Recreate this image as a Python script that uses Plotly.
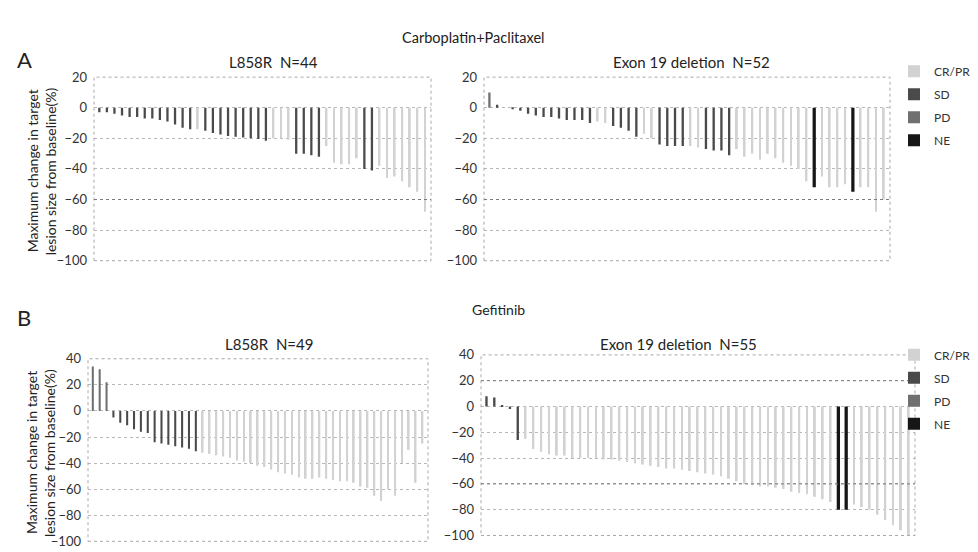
import plotly.graph_objects as go

# ---------------- data ----------------
categories = ["CR/PR", "SD", "PD", "NE"]

a_l858r_values = [-3, -3, -4, -5, -6, -6, -7, -7, -8, -9, -11, -13, -14, -14, -15,
                  -16.5, -17.5, -18.5, -19, -19.5, -20, -20.5, -21.5, -20, -20, -21,
                  -30, -30, -31, -32, -25, -36, -37, -37, -33, -40, -41, -38, -46,
                  -45, -48, -52, -55, -68]
a_l858r_status = ["SD"] * 13 + ["CR/PR"] + ["SD"] * 9 + ["CR/PR"] * 3 + ["SD"] * 4 + \
                 ["CR/PR"] * 5 + ["SD"] * 2 + ["CR/PR"] * 7

a_ex19_values = [10, 2, 0, -1, -2, -4, -5, -6, -6, -7, -8, -8, -8, -10, -9, -10, -12,
                 -13, -15, -19, -17, -20, -24, -25, -25, -25, -25, -26, -27, -28, -28,
                 -31, -27, -32, -30, -34, -30, -33, -36, -38, -40, -48, -52, -45, -52,
                 -52, -50, -55, -52, -52, -68, -60]
a_ex19_status = ["PD"] + ["SD"] * 13 + ["CR/PR"] * 2 + ["SD"] * 4 + ["CR/PR"] * 2 + \
                ["SD"] * 4 + ["CR/PR"] * 2 + ["SD"] * 4 + ["CR/PR"] * 10 + ["NE"] + \
                ["CR/PR"] * 4 + ["NE"] + ["CR/PR"] * 4

b_l858r_values = [34, 32, 22, -5, -9, -11, -14, -16, -17, -24, -25, -26, -27, -28, -29,
                  -31, -32, -33, -34, -35, -36, -38, -39, -40, -42, -43, -45, -47, -48,
                  -49, -51, -52, -52, -51, -52, -53, -54, -54, -55, -58, -59, -65, -69,
                  -60, -65, -40, -30, -55, -25]
b_l858r_status = ["PD"] * 3 + ["SD"] * 13 + ["CR/PR"] * 33

b_ex19_values = [8, 7, 1, -2, -26, -25, -33, -35, -37, -38, -38, -40, -40, -40, -40,
                 -41, -41, -42, -43, -44, -45, -46, -47, -48, -48, -49, -50, -51, -52,
                 -53, -54, -56, -58, -60, -61, -62, -62, -63, -64, -66, -67, -68, -70,
                 -72, -74, -80, -80, -76, -78, -80, -84, -88, -92, -96, -100]
b_ex19_status = ["SD"] * 5 + ["CR/PR"] * 40 + ["NE"] * 2 + ["CR/PR"] * 8

y_ticks_a = [20, 0, -20, -40, -60, -80, -100]
y_ticks_b = [40, 20, 0, -20, -40, -60, -80, -100]

colors = {"CR/PR": "#d2d2d2", "SD": "#4a4a4a", "PD": "#707070", "NE": "#161616"}
widths = {"CR/PR": 0.24, "SD": 0.3, "PD": 0.3, "NE": 0.42}

FONT = "Lato, Open Sans, sans-serif"
SP = "&nbsp;"

panels = [
    (a_l858r_values, a_l858r_status, "x", "y", None, False),
    (a_ex19_values, a_ex19_status, "x2", "y2", "legend", True),
    (b_l858r_values, b_l858r_status, "x3", "y3", None, False),
    (b_ex19_values, b_ex19_status, "x4", "y4", "legend2", True),
]

fig = go.Figure()
for vals, stat, xa, ya, leg, show in panels:
    idx = list(range(len(vals)))
    for cat in categories:
        yv = [v if s == cat else None for v, s in zip(vals, stat)]
        tr = dict(
            x=idx, y=yv, name=cat, xaxis=xa, yaxis=ya,
            marker=dict(color=colors[cat], line=dict(width=0)),
            width=widths[cat], showlegend=show, legendgroup=cat + xa,
            hoverinfo="y",
        )
        if leg:
            tr["legend"] = leg
        fig.add_trace(go.Bar(**tr))

dom = {
    "x": [86 / 978, 423 / 978], "y": [1 - 252 / 552, 1 - 63 / 552],
    "x2": [476 / 978, 882 / 978], "y2": [1 - 252 / 552, 1 - 63 / 552],
    "x3": [80 / 978, 420 / 978], "y3": [1 - 541 / 552, 1 - 353 / 552],
    "x4": [473 / 978, 907 / 978], "y4": [1 - 535 / 552, 1 - 349 / 552],
}

layout = dict(
    width=978, height=552, margin=dict(l=0, r=0, t=0, b=0),
    paper_bgcolor="white", plot_bgcolor="white",
    barmode="overlay", font=dict(family=FONT, size=12, color="#333333"),
)
lens = [len(a_l858r_values), len(a_ex19_values), len(b_l858r_values), len(b_ex19_values)]
for i, (n, ticks) in enumerate(zip(lens, [y_ticks_a, y_ticks_a, y_ticks_b, y_ticks_b])):
    sfx = "" if i == 0 else str(i + 1)
    layout["xaxis" + sfx] = dict(
        domain=dom["x" + sfx], range=[-0.7, n - 0.2], showticklabels=False,
        showgrid=False, zeroline=False, showline=False, anchor="y" + sfx,
        fixedrange=True,
    )
    layout["yaxis" + sfx] = dict(
        domain=dom["y" + sfx], range=[min(ticks), max(ticks)], tickvals=ticks,
        showgrid=True, gridcolor="#b8b8b8", griddash="dot", gridwidth=1,
        zeroline=False, showline=False, anchor="x" + sfx, ticks="",
        ticklabelstandoff=6, tickfont=dict(size=13, color="#333333"),
        fixedrange=True,
    )

fig.update_layout(**layout)

shapes = []
for i in range(4):
    sfx = "" if i == 0 else str(i + 1)
    shapes.append(dict(type="rect", xref=f"x{sfx} domain", yref=f"y{sfx} domain",
                       x0=0, x1=1, y0=0, y1=1,
                       line=dict(color="#a8a8a8", width=1, dash="dot")))
emph = [("y", -60), ("y2", -60), ("y4", 20), ("y4", -60)]
for ya, yv in emph:
    xa = "x" + ya[1:]
    shapes.append(dict(type="line", xref=f"{xa} domain", yref=ya, x0=0, x1=1,
                       y0=yv, y1=yv, line=dict(color="#7a7a7a", width=1, dash="dot")))
fig.update_layout(shapes=shapes)

ann = [
    ("Carboplatin+Paclitaxel", 465, 22, 14.5, 0),
    ("A", 16, 45, 22, 0),
    ("L858R" + SP * 2 + "N=44", 265, 47, 15, 0),
    ("Exon 19 deletion" + SP * 2 + "N=52", 683, 47, 15, 0),
    ("Gefitinib", 490, 302, 14, 0),
    ("B", 16, 311, 22, 0),
    ("L858R" + SP * 2 + "N=49", 261, 338, 15, 0),
    ("Exon 19 deletion" + SP * 2 + "N=55", 670, 338, 15, 0),
    ("Maximum change in target", 24, 160, 14, -90),
    ("lesion size from baseline(%)", 42, 160, 14, -90),
    ("Maximum change in target", 24, 450, 14, -90),
    ("lesion size from baseline(%)", 42, 450, 14, -90),
]
annotations = []
for text, px, py, size, ang in ann:
    annotations.append(dict(text=text, x=px / 978, y=1 - py / 552, xref="paper",
                            yref="paper", showarrow=False, xanchor="center",
                            yanchor="middle", textangle=ang,
                            font=dict(size=size, family=FONT, color="#222222")))
fig.update_layout(annotations=annotations)

leg_common = dict(xanchor="left", yanchor="top", bgcolor="rgba(0,0,0,0)",
                  font=dict(size=12, family=FONT, color="#333333"),
                  tracegroupgap=4, itemwidth=30)
fig.update_layout(
    legend=dict(x=886 / 978, y=1 - 42 / 552, **leg_common),
    legend2=dict(x=886 / 978, y=1 - 334 / 552, **leg_common),
)

fig.write_html("out.html")
